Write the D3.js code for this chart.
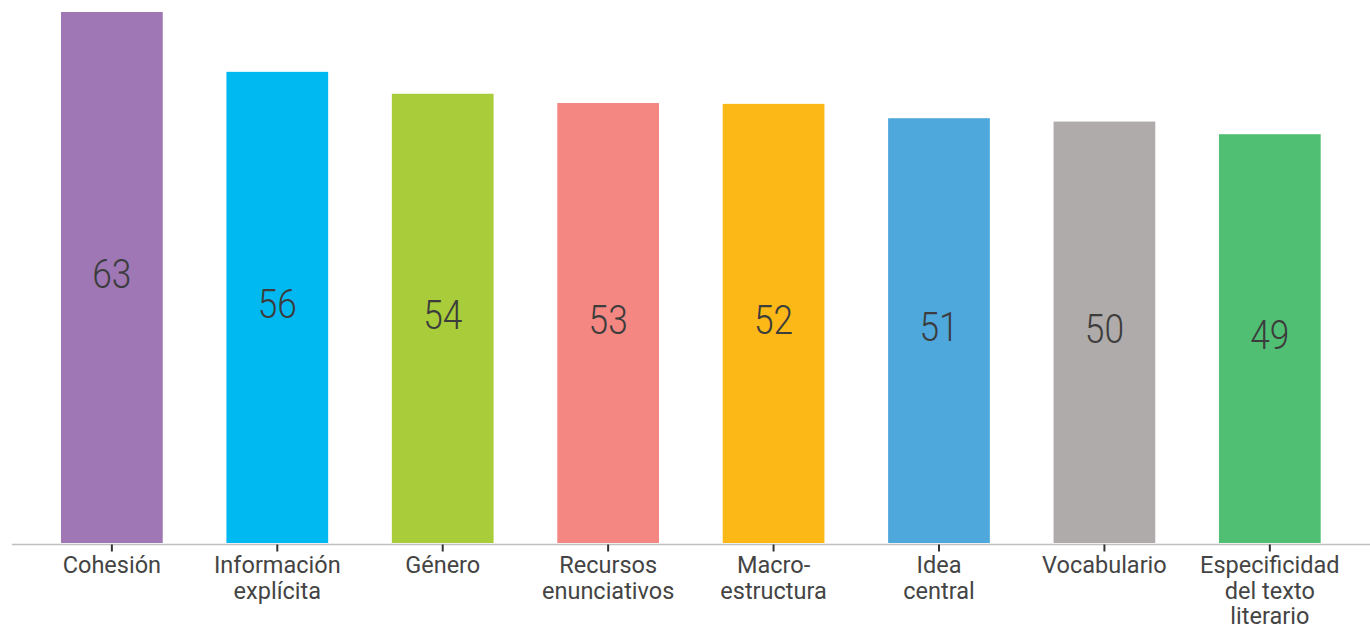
<!DOCTYPE html>
<html>
<head>
<meta charset="utf-8">
<script src="https://cdn.jsdelivr.net/npm/d3@7"></script>
<style>
  html, body { margin: 0; padding: 0; background: #fff; }
  svg { display: block; }
</style>
</head>
<body>
<div id="chart"></div>
<script>
;(function () {
  'use strict';

  // categories (line breaks as in the picture)
  var categories = [
    ['Cohesión'],
    ['Información', 'explícita'],
    ['Género'],
    ['Recursos', 'enunciativos'],
    ['Macro-', 'estructura'],
    ['Idea', 'central'],
    ['Vocabulario'],
    ['Especificidad', 'del texto', 'literario']
  ];
  // bar heights
  var values = [63, 55.9, 53.3, 52.2, 52.1, 50.4, 50.0, 48.5];
  // numbers printed on the bars
  var shown = ['63', '56', '54', '53', '52', '51', '50', '49'];
  var colors = ['#9e77b4', '#00b9f1', '#a9cc3a', '#f58783', '#fcb816', '#4ea8dc', '#afabaa', '#50bf73'];

  var W = 1370, H = 630;
  var base = 543;

  var svg = d3.select('#chart').append('svg')
    .attr('width', W)
    .attr('height', H);

  var x = d3.scaleBand()
    .domain(d3.range(categories.length))
    .range([61, 1320.7])
    .paddingInner(0.385)
    .paddingOuter(0);

  var y = d3.scaleLinear()
    .domain([0, 63])
    .range([base, 12]);

  var bars = svg.append('g').selectAll('g')
    .data(values)
    .enter().append('g');

  bars.append('rect')
    .attr('x', function (d, i) { return x(i); })
    .attr('y', function (d) { return y(d); })
    .attr('width', x.bandwidth())
    .attr('height', function (d) { return base - y(d); })
    .attr('fill', function (d, i) { return colors[i]; });

  bars.append('text')
    .attr('transform', function (d, i) {
      var cx = x(i) + x.bandwidth() / 2;
      var cy = (y(d) + base) / 2 + 10.5;
      return 'translate(' + cx + ',' + cy + ') scale(0.85,1)';
    })
    .attr('text-anchor', 'middle')
    .style('font-family', 'Roboto, sans-serif')
    .style('font-weight', 300)
    .style('font-size', '41.5px')
    .style('fill', '#3c3c3c')
    .text(function (d, i) { return shown[i]; });

  // x axis
  var xAxis = d3.axisBottom(x)
    .tickSize(7)
    .tickSizeOuter(0)
    .tickFormat('');

  var ax = svg.append('g')
    .attr('transform', 'translate(0,' + (base + 1.5) + ')')
    .call(xAxis);

  ax.select('.domain').remove();
  ax.insert('line', ':first-child')
    .attr('x1', 12).attr('x2', W)
    .attr('y1', 0).attr('y2', 0)
    .attr('stroke', '#c0c0c0')
    .attr('stroke-width', 1.5);

  ax.selectAll('.tick line')
    .attr('stroke', '#333')
    .attr('stroke-width', 2);

  ax.selectAll('.tick text').remove();
  ax.selectAll('.tick').append('text')
    .attr('text-anchor', 'middle')
    .style('font-family', 'Roboto, sans-serif')
    .style('font-size', '23.5px')
    .style('fill', '#444')
    .each(function (d) {
      var t = d3.select(this);
      categories[d].forEach(function (line, k) {
        t.append('tspan')
          .attr('x', 0)
          .attr('y', 28.5 + k * 25.5)
          .text(line);
      });
    });

})();
</script>
</body>
</html>
